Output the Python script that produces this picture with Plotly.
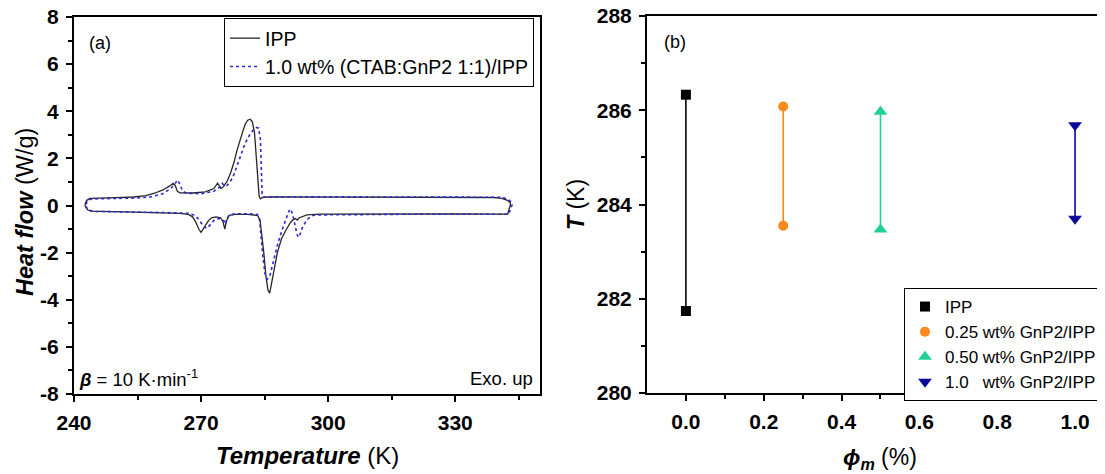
import plotly.graph_objects as go

# ---------------- Panel (a): DSC loops ----------------
ipp_T = [242.6, 243.0, 243.8, 246, 250, 254, 257, 259, 261, 262.5, 263.4, 263.9, 264.4, 265, 268, 271, 273,
         273.9, 274.3, 274.7, 275.3, 276.2, 277, 277.7, 278.5, 279.2, 279.7, 280.4, 281.0, 281.6, 282.1, 282.6,
         283.0, 283.4, 283.7, 284.0, 284.5, 286, 300, 320, 335, 339, 341, 342.3, 343.0,
         343.0, 342.7, 342.4,
         330, 310, 298, 295, 294, 293.2, 292.7, 292.3, 291.6, 291.0, 290, 289, 288, 287.2, 286.6, 286.2, 285.8,
         285.3, 284.8, 284.3, 283.9, 283.3, 281, 278, 276.6, 276.0, 275.6, 275.2, 274.6, 273.5, 272.5, 271.7,
         271.0, 270.4, 270.0, 269.5, 268.8, 268, 267, 265, 260, 252, 246, 244, 243.2, 242.7, 242.6]
ipp_HF = [0.05, 0.22, 0.30, 0.32, 0.33, 0.36, 0.42, 0.52, 0.66, 0.82, 0.94, 0.85, 0.60, 0.54, 0.53, 0.58, 0.72,
          0.95, 0.82, 0.72, 0.80, 1.05, 1.40, 1.79, 2.35, 2.80, 3.06, 3.45, 3.62, 3.66, 3.55, 3.10,
          2.20, 1.00, 0.40, 0.28, 0.34, 0.37, 0.37, 0.36, 0.35, 0.34, 0.30, 0.22, 0.10,
          0.0, -0.15, -0.37,
          -0.36, -0.36, -0.37, -0.40, -0.45, -0.52, -0.62, -0.55, -0.62, -0.75, -1.05, -1.40, -2.00, -2.80, -3.50,
          -3.72, -3.60, -3.00, -2.00, -1.10, -0.60, -0.42, -0.38, -0.38, -0.42, -0.65, -1.00, -0.70, -0.52, -0.48,
          -0.52, -0.65, -0.85, -1.08, -1.14, -1.02, -0.72, -0.48, -0.38, -0.33, -0.30, -0.27, -0.25, -0.24, -0.18,
          -0.05, 0.05]

ctab_T = [242.8, 243.3, 244.2, 250, 255, 258, 261, 263, 264.2, 264.5, 265, 265.6, 266.5, 270, 273, 274.5, 275,
          275.4, 276, 277, 277.7, 278.5, 279.3, 280.3, 281.3, 282.3, 283.0, 283.6, 284.0, 284.2, 284.4, 284.7,
          290, 320, 338, 340.5, 342, 343.3, 343.4,
          343.1, 342.6,
          320, 300, 297, 296, 295, 294, 293.3, 292.9, 292.5, 291.9, 291.3, 291.0, 290.6, 290, 289, 288, 287,
          286.2, 285.6, 285.1, 284.6, 284.2, 283.8, 283.3, 281, 278, 276.6, 276.0, 275.8, 275.4, 274.5, 273.2,
          272.2, 271.4, 270.6, 269.5, 268.5, 267, 262, 255, 248, 244.5, 243.4, 242.8, 242.8]
ctab_HF = [0.05, 0.22, 0.28, 0.30, 0.32, 0.36, 0.50, 0.75, 1.00, 1.08, 0.90, 0.62, 0.52, 0.50, 0.60, 0.80, 0.94,
           0.85, 0.82, 1.05, 1.29, 1.70, 2.07, 2.60, 2.95, 3.20, 3.31, 3.28, 2.80, 1.60, 0.50, 0.36,
           0.37, 0.36, 0.36, 0.35, 0.30, 0.15, 0.02,
           -0.15, -0.37,
           -0.37, -0.38, -0.40, -0.45, -0.60, -0.90, -1.25, -1.35, -1.10, -0.60, -0.20, -0.15, -0.30, -0.60, -1.10,
           -1.70, -2.50, -3.00, -3.13, -2.90, -2.20, -1.30, -0.60, -0.38, -0.35, -0.35, -0.42, -0.60, -0.80, -0.65,
           -0.55, -0.60, -0.82, -0.97, -0.90, -0.60, -0.42, -0.33, -0.30, -0.28, -0.26, -0.25, -0.18, -0.05, 0.05]

hf_ticks = [-8, -6, -4, -2, 0, 2, 4, 6, 8]
hf_ticktext = ["-8", "-6", "-4", "-2", "0", "2", "4", "6", "8"]
temp_ticks = [240, 270, 300, 330]

# ---------------- Panel (b): transition temperatures ----------------
phi_labels = ["IPP", "0.25 wt% GnP2/IPP", "0.50 wt% GnP2/IPP", "1.0   wt% GnP2/IPP"]
phi_values = [0.0, 0.25, 0.50, 1.0]
T_upper = [286.33, 286.08, 285.97, 285.68]
T_lower = [281.74, 283.55, 283.47, 283.70]
phi_ticks = [0.0, 0.2, 0.4, 0.6, 0.8, 1.0]
phi_ticktext = ["0.0", "0.2", "0.4", "0.6", "0.8", "1.0"]
T_ticks = [280, 282, 284, 286, 288]
series_colors = ["#000000", "#FA8A1E", "#1FD190", "#0A0A9A"]
series_symbols = ["square", "circle", "triangle-up", "triangle-down"]
series_sizes = [10, 10, 12, 12]

FONT = "Liberation Sans, Arial, sans-serif"
W, H = 1097, 466   # page body has an 8 px margin inside the 1105x474 window
OFF = 8


def px(X):
    return (X - OFF) / W


def py(Y):
    return 1 - (Y - OFF) / H


fig = go.Figure()

fig.add_trace(go.Scatter(x=ipp_T, y=ipp_HF, mode="lines", name="IPP",
                         line=dict(color="#262626", width=1.3), legend="legend",
                         xaxis="x", yaxis="y"))
fig.add_trace(go.Scatter(x=ctab_T, y=ctab_HF, mode="lines", name="1.0 wt% (CTAB:GnP2 1:1)/IPP",
                         line=dict(color="#2a2ad0", width=1.6, dash="dot"), legend="legend",
                         xaxis="x", yaxis="y"))

for i in range(len(phi_values)):
    fig.add_trace(go.Scatter(x=[phi_values[i], phi_values[i]], y=[T_upper[i], T_lower[i]],
                             mode="lines", line=dict(color=series_colors[i], width=1.6),
                             showlegend=False, xaxis="x2", yaxis="y2", hoverinfo="skip"))
    fig.add_trace(go.Scatter(x=[phi_values[i], phi_values[i]], y=[T_upper[i], T_lower[i]],
                             mode="markers", name=phi_labels[i],
                             marker=dict(color=series_colors[i], symbol=series_symbols[i],
                                         size=series_sizes[i], line=dict(width=0)),
                             legend="legend2", xaxis="x2", yaxis="y2"))

tickfont = dict(family=FONT, size=21, color="black", weight="bold")
common = dict(showgrid=False, zeroline=False, linecolor="black", linewidth=2, ticks="outside",
              ticklen=6, tickwidth=2, tickcolor="black", tickfont=tickfont, ticklabelstandoff=3,
              automargin=False, ticklabeloverflow="allow")
minor_common = dict(ticklen=4, tickwidth=2, tickcolor="black", ticks="outside")

fig.update_layout(
    width=W, height=H, margin=dict(l=0, r=0, t=0, b=0),
    paper_bgcolor="white", plot_bgcolor="white",
    font=dict(family=FONT, color="black"),
    xaxis=dict(domain=[px(74), px(540)], range=[240, 350], tickvals=temp_ticks,
               minor=dict(tickvals=[255, 285, 315, 345], **minor_common),
               mirror=True, anchor="y", **common),
    yaxis=dict(domain=[py(394), py(17)], range=[-8, 8], tickvals=hf_ticks, ticktext=hf_ticktext,
               minor=dict(tickvals=[-7, -5, -3, -1, 1, 3, 5, 7], **minor_common),
               mirror=True, anchor="x", **common),
    xaxis2=dict(domain=[px(647), 1.0], range=[-0.1, 1.077], tickvals=phi_ticks, ticktext=phi_ticktext,
                minor=dict(tickvals=[0.1, 0.3, 0.5, 0.7, 0.9], **minor_common),
                mirror=True, anchor="y2", **common),
    yaxis2=dict(domain=[py(393), py(16)], range=[280, 288], tickvals=T_ticks,
                minor=dict(tickvals=[281, 283, 285, 287], **minor_common),
                mirror=False, anchor="x2", **common),
    legend=dict(x=px(534), xanchor="right", y=py(18), yanchor="top", bordercolor="black", borderwidth=1,
                bgcolor="white", font=dict(family=FONT, size=19.5, color="black"), tracegroupgap=0),
    legend2=dict(x=px(1102), xanchor="right", y=py(288), yanchor="top", bordercolor="black", borderwidth=1,
                 bgcolor="white", font=dict(family=FONT, size=17, color="black"), tracegroupgap=0),
)

ann = [
    dict(text="(a)", x=px(87), y=py(43), xanchor="left", yanchor="middle", font=dict(size=18)),
    dict(text="(b)", x=px(662), y=py(42), xanchor="left", yanchor="middle", font=dict(size=18)),
    dict(text="<b><i>β</i></b> = 10 K·min<sup>-1</sup>", x=px(77), y=py(378),
         xanchor="left", yanchor="middle", font=dict(size=18.5)),
    dict(text="Exo. up", x=px(535), y=py(378), xanchor="right", yanchor="middle", font=dict(size=18.5)),
    dict(text="<b><i>Temperature</i></b> (K)", x=px(307), y=py(455), xanchor="center",
         yanchor="middle", font=dict(size=24)),
    dict(text="<b><i>Heat flow</i></b> (W/g)", x=px(25), y=py(212), xanchor="center",
         yanchor="middle", textangle=-90, font=dict(size=23.5)),
    dict(text="<b><i>T</i></b> (K)", x=px(576), y=py(205), xanchor="center",
         yanchor="middle", textangle=-90, font=dict(size=23)),
    dict(text="<b><i>ϕ<sub>m</sub></i></b> (%)", x=px(880), y=py(458), xanchor="center",
         yanchor="middle", font=dict(size=23)),
]
for a in ann:
    a.update(xref="paper", yref="paper", showarrow=False)
    a["font"].update(family=FONT, color="black")
fig.update_layout(annotations=ann)

fig.write_html("out.html")
